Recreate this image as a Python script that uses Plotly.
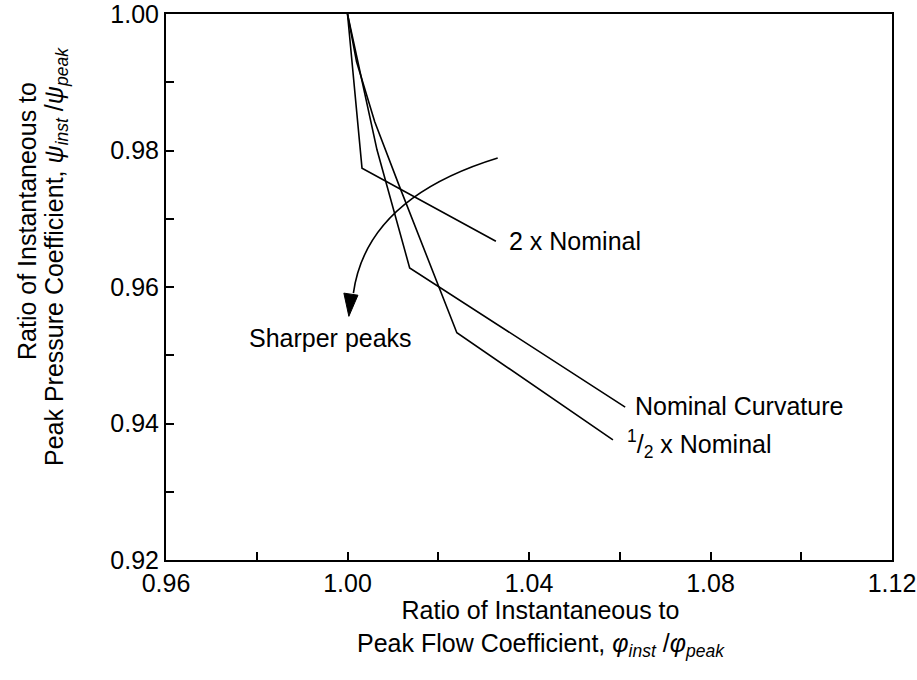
import plotly.graph_objects as go

# Ratio of instantaneous to peak flow coefficient (x) vs pressure coefficient (y)
nominal_x = [1.0000, 1.0065, 1.0137, 1.0612]
nominal_y = [1.0000, 0.9801, 0.9628, 0.9424]

double_x = [1.0000, 1.0032, 1.0327]
double_y = [1.0000, 0.9774, 0.9667]

half_x = [1.0000, 1.0020, 1.0060, 1.0113, 1.0241, 1.0585]
half_y = [1.0000, 0.9930, 0.9842, 0.9750, 0.9533, 0.9376]

x_ticks = [0.96, 1.00, 1.04, 1.08, 1.12]
x_minor = [0.98, 1.02, 1.06, 1.10]
y_ticks = [0.92, 0.94, 0.96, 0.98, 1.00]
y_minor = [0.93, 0.95, 0.97, 0.99]

FONT = "Liberation Sans, Arial, Helvetica, sans-serif"
FS = 25

# plot-area geometry (pixels) used to place the axis titles
L, R, T, B = 166, 25, 14, 120
W, H = 917, 680
PH = H - T - B


def py(pix):
    """paper y for a pixel row measured from the top"""
    return (H - B - pix) / PH


fig = go.Figure()
for xs, ys in [(nominal_x, nominal_y), (double_x, double_y), (half_x, half_y)]:
    fig.add_trace(go.Scatter(x=xs, y=ys, mode="lines",
                             line=dict(color="black", width=1.6),
                             showlegend=False, hoverinfo="skip"))

# curved "Sharper peaks" arrow
fig.add_shape(type="path", xref="x", yref="y",
              path="M 1.0331,0.9789 Q 1.0042,0.9730 1.0013,0.9591",
              line=dict(color="black", width=1.6))
fig.add_shape(type="path", xref="x", yref="y",
              path="M 0.9992,0.9591 L 1.0023,0.9588 L 1.0003,0.9557 Z",
              line=dict(color="black", width=1), fillcolor="black")

labels = [
    (1.0352, 0.9667, "2 x Nominal"),
    (0.9778, 0.9525, "Sharper peaks"),
    (1.0630, 0.9426, "Nominal Curvature"),
    (1.0612, 0.9370, "<sup>1</sup>/<sub>2</sub> x Nominal"),
]
for lx, ly, txt in labels:
    fig.add_annotation(x=lx, y=ly, xref="x", yref="y", text=txt,
                       showarrow=False, xanchor="left", yanchor="middle",
                       font=dict(family=FONT, size=FS, color="black"))

# x-axis title
fig.add_annotation(xref="paper", yref="paper", x=0.5166, y=0, yshift=-34,
                   xanchor="center", yanchor="top", showarrow=False,
                   text="Ratio of Instantaneous to<br>Peak Flow Coefficient, "
                        "<i>φ<sub>inst</sub></i> /<i>φ<sub>peak</sub></i>",
                   font=dict(family=FONT, size=FS, color="black"))

# y-axis title, one annotation per line
fig.add_annotation(xref="paper", yref="paper", x=0, y=py(221), xshift=27 - L,
                   xanchor="center", yanchor="middle", showarrow=False,
                   textangle=-90, text="Ratio of Instantaneous to",
                   font=dict(family=FONT, size=FS, color="black"))
fig.add_annotation(xref="paper", yref="paper", x=0, y=py(257), xshift=56 - L,
                   xanchor="center", yanchor="middle", showarrow=False,
                   textangle=-90,
                   text="Peak Pressure Coefficient, "
                        "<i>ψ<sub>inst</sub></i> /<i>ψ<sub>peak</sub></i>",
                   font=dict(family=FONT, size=FS, color="black"))

axis_common = dict(showgrid=False, zeroline=False, showline=True,
                   linecolor="black", linewidth=2, mirror=True,
                   ticks="inside", ticklen=8, tickwidth=1.5, tickcolor="black",
                   tickfont=dict(family=FONT, size=FS, color="black"),
                   tickformat=".2f", automargin=False,
                   ticklabeloverflow="allow")

fig.update_xaxes(range=[0.96 - 1e-7, 1.12 + 1e-7], tickvals=x_ticks,
                 minor=dict(tickvals=x_minor, ticks="inside", ticklen=8,
                            tickwidth=1.5, tickcolor="black"),
                 **axis_common)
fig.update_yaxes(range=[0.92 - 1e-7, 1.00 + 1e-7], tickvals=y_ticks,
                 minor=dict(tickvals=y_minor, ticks="inside", ticklen=8,
                            tickwidth=1.5, tickcolor="black"),
                 **axis_common)

fig.update_layout(width=W, height=H,
                  margin=dict(l=L, r=R, t=T, b=B, autoexpand=False),
                  paper_bgcolor="white", plot_bgcolor="white",
                  font=dict(family=FONT, size=FS, color="black"))

fig.write_html("out.html")
